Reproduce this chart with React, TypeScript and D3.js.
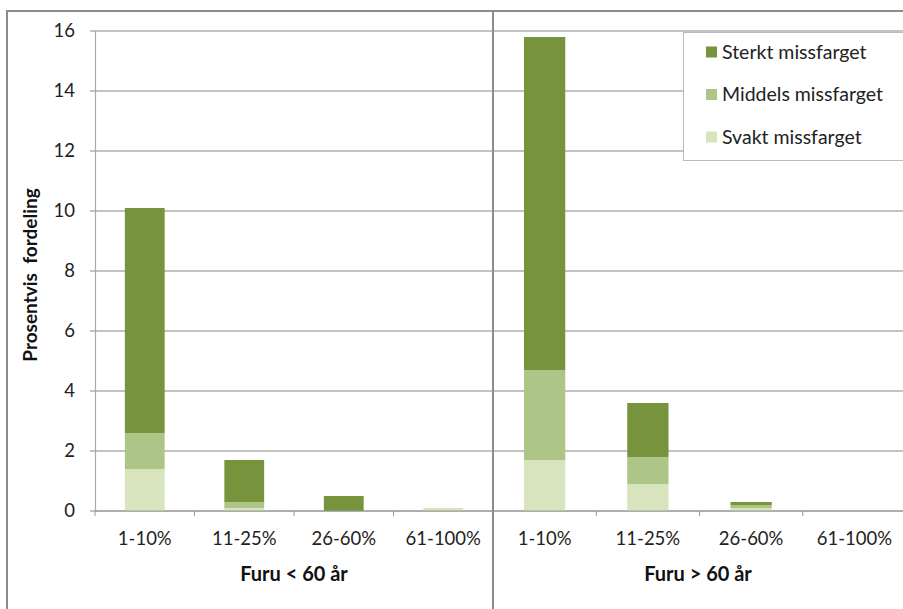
import React from "react";
import * as d3 from "d3";

// Discoloration categories (share of the stem) and the two age groups
const categories = ["1-10%", "11-25%", "26-60%", "61-100%"];
const groups = ["Furu < 60 år", "Furu > 60 år"];
const seriesNames = ["Svakt missfarget", "Middels missfarget", "Sterkt missfarget"];

// Percent distribution per category, one array per group and series
const svaktYoung = [1.4, 0.1, 0, 0.1];
const middelsYoung = [1.2, 0.2, 0, 0];
const sterktYoung = [7.5, 1.4, 0.5, 0];

const svaktOld = [1.7, 0.9, 0.1, 0];
const middelsOld = [3.0, 0.9, 0.1, 0];
const sterktOld = [11.1, 1.8, 0.1, 0];

const yTicks = [0, 2, 4, 6, 8, 10, 12, 14, 16];

const colors: Record<string, string> = {
  "Svakt missfarget": "#d7e4bd",
  "Middels missfarget": "#adc687",
  "Sterkt missfarget": "#77933c",
};

const legendOrder = ["Sterkt missfarget", "Middels missfarget", "Svakt missfarget"];

const W = 903;
const H = 609;
const FONT = "Lato, 'Open Sans', sans-serif";

function buildRows(svakt: number[], middels: number[], sterkt: number[]) {
  return categories.map((c, i) => ({
    category: c,
    "Svakt missfarget": svakt[i],
    "Middels missfarget": middels[i],
    "Sterkt missfarget": sterkt[i],
  }));
}

export default function App() {
  const y = d3.scaleLinear().domain([0, 16]).range([511, 31]);
  const stack = d3.stack<any>().keys(seriesNames);

  const panels = [
    { name: groups[0], rows: buildRows(svaktYoung, middelsYoung, sterktYoung), range: [95, 493] },
    { name: groups[1], rows: buildRows(svaktOld, middelsOld, sterktOld), range: [493, 906] },
  ];

  return (
    <svg
      width={W}
      height={H}
      style={{ position: "absolute", left: 0, top: 0, display: "block", background: "#fff" }}
      fontFamily={FONT}
    >
      {/* horizontal gridlines across both panels */}
      {yTicks.map((t) => (
        <line key={t} x1={95} x2={W} y1={y(t)} y2={y(t)} stroke="#888" strokeWidth={1.2} />
      ))}

      {/* y axis */}
      <line x1={95.5} x2={95.5} y1={31} y2={511} stroke="#aaa" strokeWidth={1.2} />
      {yTicks.map((t) => (
        <g key={"yt" + t}>
          <line x1={90} x2={95} y1={y(t)} y2={y(t)} stroke="#888" />
          <text x={75} y={y(t)} dy="0.35em" textAnchor="end" fontSize={18.5} fill="#222">
            {t}
          </text>
        </g>
      ))}
      <text
        transform={`translate(37,${(y(0) + y(16)) / 2 + 4}) rotate(-90)`}
        textAnchor="middle"
        fontSize={19}
        fontWeight="bold"
        fill="#111"
        xmlSpace="preserve"
      >
        {"Prosentvis  fordeling"}
      </text>

      {panels.map((p) => {
        const x = d3
          .scaleBand<string>()
          .domain(categories)
          .range(p.range as [number, number])
          .paddingInner(0.6)
          .paddingOuter(0.3);
        const step = (p.range[1] - p.range[0]) / categories.length;
        const layers = stack(p.rows);
        return (
          <g key={p.name}>
            {layers.map((layer) => (
              <g key={layer.key} fill={colors[layer.key]}>
                {layer.map((d, i) =>
                  d[1] - d[0] > 0 ? (
                    <rect
                      key={i}
                      x={x(categories[i])}
                      width={x.bandwidth()}
                      y={y(d[1])}
                      height={y(d[0]) - y(d[1])}
                    />
                  ) : null
                )}
              </g>
            ))}
            {/* category axis */}
            <line x1={p.range[0]} x2={p.range[1]} y1={511} y2={511} stroke="#999" strokeWidth={1.2} />
            {d3.range(categories.length + 1).map((i) => (
              <line
                key={"xt" + i}
                x1={p.range[0] + i * step}
                x2={p.range[0] + i * step}
                y1={511}
                y2={516}
                stroke="#999"
              />
            ))}
            {categories.map((c) => (
              <text
                key={"xl" + c}
                x={(x(c) as number) + x.bandwidth() / 2}
                y={545}
                textAnchor="middle"
                fontSize={18.5}
                fill="#222"
              >
                {c}
              </text>
            ))}
            <text
              x={(p.range[0] + Math.min(p.range[1], W)) / 2}
              y={581}
              textAnchor="middle"
              fontSize={20}
              fontWeight="bold"
              fill="#111"
            >
              {p.name}
            </text>
          </g>
        );
      })}

      {/* legend */}
      <rect x={683.5} y={32.5} width={240} height={128} fill="#fff" stroke="#bbb" />
      {legendOrder.map((k, i) => (
        <g key={k} transform={`translate(706,${52 + i * 42.5})`}>
          <rect x={0} y={-5.5} width={11} height={11} fill={colors[k]} />
          <text x={16} y={0} dy="0.35em" fontSize={19.5} fill="#222">
            {k}
          </text>
        </g>
      ))}

      {/* frame and panel divider */}
      <rect x={7} y={11} width={W + 10} height={H + 10} fill="none" stroke="#8c8c8c" strokeWidth={2} />
      <line x1={493} x2={493} y1={11} y2={H} stroke="#8c8c8c" strokeWidth={2} />
    </svg>
  );
}
